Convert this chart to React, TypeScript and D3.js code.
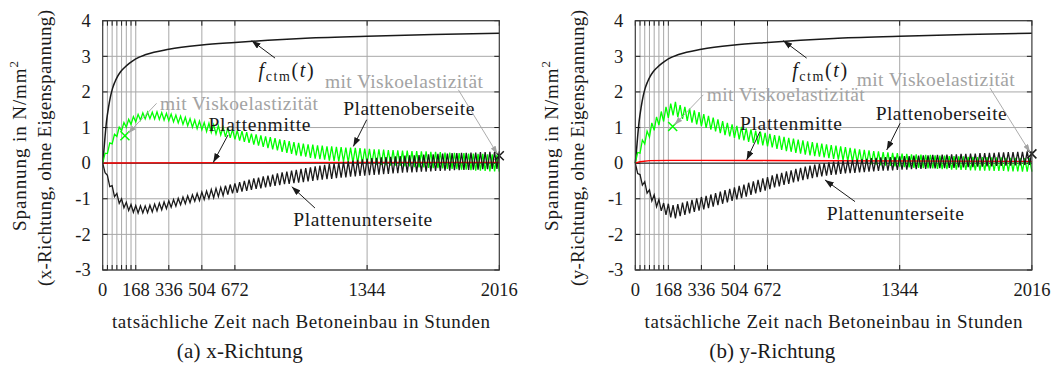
import React from 'react';
import * as d3 from 'd3';

// ---- axes ----
const END_HOURS = 2016;
const xTickValues = [0, 168, 336, 504, 672, 1344, 2016];
const firstWeekGrid = [24, 48, 72, 96, 120, 144];
const yTickValues = [-3, -2, -1, 0, 1, 2, 3, 4];

// ---- mean tensile strength f_ctm(t) [N/mm²] over hours ----
const fctmHours = [0, 6, 12, 20, 30, 40, 50, 62, 75, 90, 110, 135, 168, 220, 336, 504, 672, 840, 1008, 1344, 1680, 2016];
const fctmValues = [0, 0.35, 0.75, 1.2, 1.58, 1.88, 2.1, 2.28, 2.43, 2.56, 2.68, 2.8, 2.93, 3.05, 3.2, 3.32, 3.39, 3.45, 3.5, 3.56, 3.61, 3.65];

// ---- x-Richtung: daily values (at 0 h of each day, and at 12 h of each day) ----
const xOberTief = [0.00, 0.27, 0.54, 0.75, 0.91, 1.01, 1.09, 1.16, 1.21, 1.24,
  1.25, 1.24, 1.23, 1.21, 1.19, 1.16, 1.13, 1.09, 1.05, 1.01,
  0.97, 0.94, 0.89, 0.86, 0.82, 0.79, 0.74, 0.71, 0.67, 0.63,
  0.60, 0.57, 0.52, 0.49, 0.46, 0.42, 0.39, 0.36, 0.32, 0.29,
  0.26, 0.22, 0.20, 0.18, 0.15, 0.13, 0.11, 0.10, 0.07, 0.06,
  0.05, 0.04, 0.02, 0.01, 0.00, -0.01, -0.02, -0.03, -0.04, -0.05,
  -0.06, -0.07, -0.07, -0.08, -0.09, -0.09, -0.11, -0.12, -0.12, -0.13,
  -0.14, -0.14, -0.15, -0.16, -0.16, -0.17, -0.18, -0.18, -0.20, -0.21,
  -0.21, -0.22, -0.23, -0.23, -0.24];
const xOberHoch = [0.28, 0.57, 0.81, 1.01, 1.14, 1.23, 1.31, 1.37, 1.41, 1.43,
  1.43, 1.44, 1.42, 1.40, 1.38, 1.35, 1.32, 1.29, 1.25, 1.21,
  1.18, 1.14, 1.12, 1.08, 1.05, 1.01, 0.99, 0.95, 0.92, 0.90,
  0.87, 0.83, 0.81, 0.78, 0.75, 0.73, 0.70, 0.67, 0.65, 0.62,
  0.59, 0.57, 0.55, 0.53, 0.52, 0.50, 0.49, 0.47, 0.47, 0.46,
  0.45, 0.44, 0.44, 0.43, 0.42, 0.41, 0.40, 0.39, 0.39, 0.38,
  0.37, 0.37, 0.36, 0.35, 0.35, 0.34, 0.34, 0.33, 0.33, 0.32,
  0.32, 0.31, 0.30, 0.30, 0.29, 0.28, 0.28, 0.27, 0.27, 0.26,
  0.26, 0.25, 0.25, 0.24];
const xUnterHoch = [0.00, -0.34, -0.63, -0.85, -1.00, -1.10, -1.16, -1.19, -1.20, -1.20,
  -1.18, -1.15, -1.12, -1.09, -1.06, -1.02, -0.99, -0.95, -0.92, -0.89,
  -0.85, -0.81, -0.78, -0.74, -0.71, -0.68, -0.63, -0.60, -0.57, -0.53,
  -0.50, -0.46, -0.43, -0.41, -0.37, -0.35, -0.32, -0.29, -0.26, -0.24,
  -0.21, -0.19, -0.16, -0.14, -0.12, -0.09, -0.07, -0.05, -0.02, -0.01,
  0.01, 0.04, 0.05, 0.07, 0.09, 0.11, 0.13, 0.14, 0.15, 0.16,
  0.17, 0.18, 0.19, 0.20, 0.21, 0.22, 0.22, 0.23, 0.24, 0.25,
  0.25, 0.26, 0.27, 0.27, 0.28, 0.28, 0.29, 0.29, 0.30, 0.30,
  0.31, 0.31, 0.32, 0.32, 0.33];
const xUnterTief = [-0.27, -0.66, -0.94, -1.13, -1.25, -1.33, -1.38, -1.40, -1.40, -1.39,
  -1.37, -1.34, -1.31, -1.28, -1.24, -1.21, -1.17, -1.14, -1.11, -1.07,
  -1.05, -1.02, -0.99, -0.97, -0.94, -0.91, -0.88, -0.85, -0.83, -0.80,
  -0.78, -0.75, -0.72, -0.71, -0.68, -0.66, -0.64, -0.62, -0.59, -0.58,
  -0.56, -0.55, -0.53, -0.51, -0.50, -0.48, -0.46, -0.45, -0.44, -0.42,
  -0.41, -0.40, -0.38, -0.37, -0.36, -0.35, -0.34, -0.33, -0.32, -0.31,
  -0.30, -0.29, -0.28, -0.27, -0.26, -0.26, -0.25, -0.24, -0.24, -0.23,
  -0.22, -0.22, -0.21, -0.21, -0.20, -0.20, -0.19, -0.19, -0.18, -0.18,
  -0.17, -0.17, -0.16, -0.16];
const xMitteHours = [0, 48, 168, 672, 1344, 2016];
const xMitteValues = [0, 0.005, 0.01, 0.015, 0.02, 0.02];
const xViskoHours = [113, 2016];
const xViskoValues = [0.77, 0.21];

// ---- y-Richtung ----
const yOberTief = [0.00, 0.28, 0.54, 0.73, 0.92, 1.07, 1.17, 1.27, 1.34, 1.29,
  1.24, 1.19, 1.14, 1.09, 1.04, 0.99, 0.94, 0.89, 0.84, 0.79,
  0.75, 0.71, 0.67, 0.64, 0.60, 0.57, 0.53, 0.50, 0.47, 0.44,
  0.40, 0.37, 0.34, 0.32, 0.29, 0.27, 0.24, 0.22, 0.20, 0.18,
  0.16, 0.14, 0.12, 0.10, 0.08, 0.06, 0.04, 0.02, 0.00, -0.01,
  -0.03, -0.04, -0.06, -0.07, -0.08, -0.09, -0.10, -0.11, -0.12, -0.13,
  -0.13, -0.14, -0.15, -0.15, -0.16, -0.17, -0.17, -0.18, -0.18, -0.19,
  -0.19, -0.20, -0.20, -0.21, -0.21, -0.21, -0.22, -0.22, -0.22, -0.23,
  -0.23, -0.23, -0.24, -0.24, -0.24];
const yOberHoch = [0.30, 0.65, 0.90, 1.13, 1.30, 1.45, 1.58, 1.67, 1.72, 1.63,
  1.58, 1.53, 1.48, 1.43, 1.38, 1.33, 1.28, 1.23, 1.18, 1.13,
  1.09, 1.05, 1.02, 0.98, 0.95, 0.91, 0.88, 0.85, 0.82, 0.79,
  0.77, 0.74, 0.71, 0.69, 0.66, 0.64, 0.61, 0.59, 0.57, 0.55,
  0.53, 0.51, 0.49, 0.47, 0.45, 0.43, 0.41, 0.39, 0.37, 0.36,
  0.34, 0.33, 0.31, 0.30, 0.29, 0.28, 0.27, 0.26, 0.25, 0.25,
  0.24, 0.23, 0.23, 0.22, 0.21, 0.21, 0.20, 0.20, 0.19, 0.19,
  0.18, 0.18, 0.17, 0.17, 0.17, 0.16, 0.16, 0.16, 0.15, 0.15,
  0.15, 0.14, 0.14, 0.14];
const yUnterHoch = [0.00, -0.32, -0.52, -0.75, -0.89, -1.02, -1.12, -1.14, -1.18, -1.15,
  -1.11, -1.07, -1.03, -0.99, -0.95, -0.92, -0.88, -0.84, -0.80, -0.76,
  -0.72, -0.68, -0.64, -0.60, -0.55, -0.51, -0.47, -0.43, -0.39, -0.34,
  -0.30, -0.27, -0.23, -0.20, -0.16, -0.13, -0.10, -0.07, -0.04, -0.02,
  0.00, 0.02, 0.04, 0.05, 0.07, 0.08, 0.09, 0.10, 0.11, 0.12,
  0.14, 0.15, 0.16, 0.17, 0.17, 0.18, 0.19, 0.20, 0.20, 0.21,
  0.21, 0.22, 0.22, 0.23, 0.23, 0.24, 0.24, 0.25, 0.25, 0.26,
  0.26, 0.27, 0.27, 0.28, 0.28, 0.29, 0.29, 0.30, 0.30, 0.31,
  0.31, 0.32, 0.32, 0.33, 0.33];
const yUnterTief = [-0.29, -0.62, -0.84, -1.06, -1.22, -1.34, -1.45, -1.52, -1.55, -1.49,
  -1.45, -1.41, -1.37, -1.33, -1.30, -1.26, -1.22, -1.18, -1.14, -1.10,
  -1.06, -1.02, -0.98, -0.94, -0.89, -0.85, -0.81, -0.77, -0.73, -0.68,
  -0.65, -0.61, -0.58, -0.54, -0.51, -0.48, -0.45, -0.42, -0.39, -0.37,
  -0.35, -0.33, -0.32, -0.30, -0.29, -0.28, -0.27, -0.26, -0.25, -0.24,
  -0.23, -0.22, -0.21, -0.21, -0.20, -0.19, -0.18, -0.18, -0.17, -0.17,
  -0.16, -0.16, -0.15, -0.15, -0.14, -0.14, -0.13, -0.13, -0.12, -0.12,
  -0.11, -0.11, -0.10, -0.10, -0.09, -0.09, -0.08, -0.08, -0.07, -0.07,
  -0.06, -0.06, -0.05, -0.05];
const yMitteHours = [0, 24, 72, 168, 336, 672, 1344, 2016];
const yMitteValues = [0, 0.04, 0.07, 0.08, 0.08, 0.075, 0.06, 0.05];
const yViskoHours = [190, 2016];
const yViskoValues = [1.03, 0.26];

type Pt = [number, number];

const FONT = "'Liberation Serif', 'DejaVu Serif', serif";
const INK = '#1a1a1a';
const GRAY = '#a3a3a3';
const GREEN = '#00ff00';
const RED = '#ff0000';

const PANEL_W = 396.6;
const PLOT_TOP = 20.7;
const PLOT_BOTTOM = 270;

// one value at the start of each day and one at noon
function dailyZigzag(atDayStart: number[], atNoon: number[]): Pt[] {
  const pts: Pt[] = [];
  atNoon.forEach((v, d) => {
    pts.push([24 * d, atDayStart[d]]);
    pts.push([24 * d + 12, v]);
  });
  pts.push([24 * atNoon.length, atDayStart[atNoon.length]]);
  return pts;
}

const zip = (a: number[], b: number[]): Pt[] => a.map((v, i) => [v, b[i]]);

interface Note {
  text: string;
  at: Pt; // label anchor in (hours, N/mm²)
  anchor: 'start' | 'middle';
  width: number;
  from: Pt;
  to: Pt;
  gray?: boolean;
}

interface PanelProps {
  x0: number;
  oben: Pt[];
  unten: Pt[];
  mitte: Pt[];
  visko: Pt[];
  richtung: string;
  caption: string;
  notes: Note[];
  fctmNote: { at: Pt; from: Pt; to: Pt };
}

function Panel({ x0, oben, unten, mitte, visko, richtung, caption, notes, fctmNote }: PanelProps) {
  const x = d3.scaleLinear().domain([0, END_HOURS]).range([x0, x0 + PANEL_W]);
  const y = d3.scaleLinear().domain([-3, 4]).range([PLOT_BOTTOM, PLOT_TOP]);
  const line = d3.line<Pt>().x(d => x(d[0])).y(d => y(d[1]));
  const smooth = d3.line<Pt>().x(d => x(d[0])).y(d => y(d[1])).curve(d3.curveMonotoneX);
  const fctm = zip(fctmHours, fctmValues);
  const vGrid = [...firstWeekGrid, ...xTickValues.filter(t => t > 0 && t < END_HOURS)];
  const tickTop = [...firstWeekGrid, ...xTickValues];
  const cx = (x(0) + x(END_HOURS)) / 2;

  return (
    <g>
      {/* grid */}
      {yTickValues.map(v => (
        <line key={'h' + v} x1={x(0)} x2={x(END_HOURS)} y1={y(v)} y2={y(v)} stroke="#a8a8a8" strokeWidth={1} />
      ))}
      {vGrid.map(t => (
        <line key={'v' + t} x1={x(t)} x2={x(t)} y1={y(4)} y2={y(-3)} stroke="#a8a8a8" strokeWidth={1} />
      ))}
      {/* tick marks */}
      {tickTop.map(t => (
        <g key={'t' + t}>
          <line x1={x(t)} x2={x(t)} y1={y(4)} y2={y(4) + 5} stroke={INK} strokeWidth={1} />
          <line x1={x(t)} x2={x(t)} y1={y(-3)} y2={y(-3) - 5} stroke={INK} strokeWidth={1} />
        </g>
      ))}
      {yTickValues.map(v => (
        <g key={'yt' + v}>
          <line x1={x(0)} x2={x(0) + 5} y1={y(v)} y2={y(v)} stroke={INK} strokeWidth={1} />
          <line x1={x(END_HOURS)} x2={x(END_HOURS) - 5} y1={y(v)} y2={y(v)} stroke={INK} strokeWidth={1} />
        </g>
      ))}
      <line x1={x(0)} x2={x(END_HOURS)} y1={y(0)} y2={y(0)} stroke={INK} strokeWidth={1} />

      {/* curves */}
      <path d={smooth(fctm) ?? ''} fill="none" stroke={INK} strokeWidth={1.5} />
      <path d={line(oben) ?? ''} fill="none" stroke={GREEN} strokeWidth={1.3} />
      <path d={line(mitte) ?? ''} fill="none" stroke={RED} strokeWidth={1.3} />
      <path d={line(unten) ?? ''} fill="none" stroke={INK} strokeWidth={1.3} />

      {/* values with viscoelasticity */}
      {visko.map((p, i) => {
        const px = x(p[0]);
        const py = y(p[1]);
        const s = 4.5;
        return (
          <path key={'vx' + i} d={`M${px - s},${py - s}L${px + s},${py + s}M${px - s},${py + s}L${px + s},${py - s}`}
            stroke={i === 0 ? GREEN : INK} strokeWidth={1.5} fill="none" />
        );
      })}

      {/* frame */}
      <rect x={x(0)} y={y(4)} width={x(END_HOURS) - x(0)} height={y(-3) - y(4)} fill="none" stroke="#3a3a3a" strokeWidth={1.2} />

      {/* annotations */}
      {notes.map((n, i) => (
        <g key={'n' + i}>
          <line x1={x(n.from[0])} y1={y(n.from[1])} x2={x(n.to[0])} y2={y(n.to[1])}
            stroke={n.gray ? GRAY : INK} strokeWidth={n.gray ? 0.9 : 1}
            markerEnd={n.gray ? 'url(#pfeilGrau)' : 'url(#pfeil)'} />
          <text x={x(n.at[0])} y={y(n.at[1])} dy="0.34em" textAnchor={n.anchor}
            fontFamily={FONT} fontSize={19.5} fill={n.gray ? GRAY : INK}
            textLength={n.width} lengthAdjust="spacing">{n.text}</text>
        </g>
      ))}
      <line x1={x(fctmNote.from[0])} y1={y(fctmNote.from[1])} x2={x(fctmNote.to[0])} y2={y(fctmNote.to[1])}
        stroke={INK} strokeWidth={1} markerEnd="url(#pfeil)" />
      <text x={x(fctmNote.at[0])} y={y(fctmNote.at[1]) + 5} textAnchor="middle" fontFamily={FONT} fill={INK}
        textLength={55} lengthAdjust="spacing">
        <tspan fontStyle="italic" fontSize={20}>f</tspan>
        <tspan fontSize={14} dy={4}>ctm</tspan>
        <tspan fontSize={20} dy={-4}>(</tspan>
        <tspan fontSize={20} fontStyle="italic">t</tspan>
        <tspan fontSize={20}>)</tspan>
      </text>

      {/* tick labels */}
      {yTickValues.map(v => (
        <text key={'yl' + v} x={x(0) - 12} y={y(v)} dy="0.34em" textAnchor="end"
          fontFamily={FONT} fontSize={18.5} fill={INK}>{String(v)}</text>
      ))}
      {xTickValues.map(t => (
        <text key={'xl' + t} x={x(t)} y={296} textAnchor="middle"
          fontFamily={FONT} fontSize={18.5} fill={INK}>{String(t)}</text>
      ))}

      {/* axis titles */}
      <text x={cx} y={328} textAnchor="middle" fontFamily={FONT} fontSize={19} fill={INK}
        textLength={378} lengthAdjust="spacing">tatsächliche Zeit nach Betoneinbau in Stunden</text>
      <text transform={`translate(${x0 - 77}, 146) rotate(-90)`} textAnchor="middle" fontFamily={FONT} fontSize={19} fill={INK}
        textLength={170} lengthAdjust="spacing">
        Spannung in N/mm<tspan fontSize={13} dy={-8}>2</tspan>
      </text>
      <text transform={`translate(${x0 - 51.5}, 148) rotate(-90)`} textAnchor="middle" fontFamily={FONT} fontSize={19} fill={INK}
        textLength={276} lengthAdjust="spacing">({richtung}, ohne Eigenspannung)</text>

      {/* caption */}
      <text x={x0 + 137} y={358} textAnchor="middle" fontFamily={FONT} fontSize={21} fill={INK}
        textLength={126} lengthAdjust="spacing">{caption}</text>
    </g>
  );
}

const notesX: Note[] = [
  { text: 'Plattenoberseite', at: [1556, 1.54], anchor: 'middle', width: 131, from: [1342, 1.22], to: [1274, 0.47] },
  { text: 'Plattenmitte', at: [797, 1.08], anchor: 'middle', width: 102, from: [637, 0.79], to: [562, 0.02] },
  { text: 'Plattenunterseite', at: [1322, -1.57], anchor: 'middle', width: 139, from: [1079, -1.26], to: [961, -0.66] },
  { text: 'mit Viskoelastizität', at: [291, 1.67], anchor: 'start', width: 158, from: [274, 1.68], to: [130, 0.84], gray: true },
  { text: 'mit Viskoelastizität', at: [1531, 2.29], anchor: 'middle', width: 158, from: [1808, 2.06], to: [2006, 0.26], gray: true },
];
const notesY: Note[] = [
  { text: 'Plattenoberseite', at: [1555, 1.40], anchor: 'middle', width: 131, from: [1346, 1.12], to: [1278, 0.37] },
  { text: 'Plattenmitte', at: [791, 1.12], anchor: 'middle', width: 102, from: [634, 0.89], to: [566, 0.09] },
  { text: 'Plattenunterseite', at: [1322, -1.40], anchor: 'middle', width: 137, from: [1117, -1.08], to: [964, -0.47] },
  { text: 'mit Viskoelastizität', at: [363, 1.92], anchor: 'start', width: 158, from: [346, 1.92], to: [200, 1.08], gray: true },
  { text: 'mit Viskoelastizität', at: [1527, 2.34], anchor: 'middle', width: 158, from: [1803, 2.11], to: [2006, 0.31], gray: true },
];

export default function App() {
  return (
    <svg width={1055} height={376} style={{ position: 'absolute', left: 0, top: 0, background: '#fff' }}>
      <defs>
        <marker id="pfeil" viewBox="0 0 10 7" refX={10} refY={3.5} markerWidth={9} markerHeight={6.3}
          markerUnits="userSpaceOnUse" orient="auto">
          <path d="M0,0 L10,3.5 L0,7 Z" fill={INK} />
        </marker>
        <marker id="pfeilGrau" viewBox="0 0 10 7" refX={10} refY={3.5} markerWidth={8} markerHeight={5.6}
          markerUnits="userSpaceOnUse" orient="auto">
          <path d="M0,0 L10,3.5 L0,7 Z" fill={GRAY} />
        </marker>
      </defs>
      <rect width={1055} height={376} fill="#fff" />
      <Panel x0={102.7} oben={dailyZigzag(xOberTief, xOberHoch)} unten={dailyZigzag(xUnterHoch, xUnterTief)}
        mitte={zip(xMitteHours, xMitteValues)} visko={zip(xViskoHours, xViskoValues)}
        richtung="x-Richtung" caption="(a) x-Richtung" notes={notesX}
        fctmNote={{ at: [932, 2.57], from: [876, 2.95], to: [757, 3.44] }} />
      <Panel x0={635.3} oben={dailyZigzag(yOberTief, yOberHoch)} unten={dailyZigzag(yUnterHoch, yUnterTief)}
        mitte={zip(yMitteHours, yMitteValues)} visko={zip(yViskoHours, yViskoValues)}
        richtung="y-Richtung" caption="(b) y-Richtung" notes={notesY}
        fctmNote={{ at: [937, 2.57], from: [871, 2.95], to: [752, 3.44] }} />
    </svg>
  );
}
